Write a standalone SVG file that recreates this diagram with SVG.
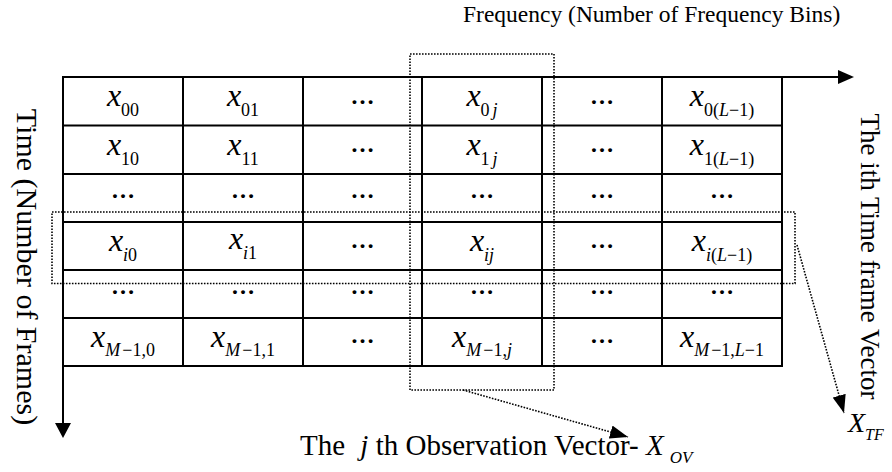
<svg xmlns="http://www.w3.org/2000/svg" width="892" height="472" viewBox="0 0 892 472">
<defs>
<style>
text{font-family:"Liberation Serif","Times New Roman",serif;fill:#000}
.v{font-size:32px;font-style:italic}
.s{font-size:18px}
.it{font-style:italic}
.el{font-size:24px;font-weight:bold}
.grid{stroke:#000;stroke-width:2;fill:none}
.dot{stroke:#000;stroke-width:1.6;stroke-dasharray:1.6 1.4;fill:none}
.lbl{font-size:29px}
</style>
<marker id="ah" markerUnits="userSpaceOnUse" markerWidth="18" markerHeight="14" refX="16" refY="6" orient="auto" viewBox="0 0 16 12">
<path d="M0,0 L16,6 L0,12 z" fill="#000"/>
</marker>
</defs>
<rect width="892" height="472" fill="#fff"/>

<g id="grid">
<rect class="grid" x="63" y="77" width="719" height="289"/>
<path class="grid" d="M183,77V366M303,77V366M422,77V366M542,77V366M662,77V366M63,125.5H782M63,174H782M63,222H782M63,270H782M63,318H782"/>
</g>

<g id="axes">
<path class="grid" d="M63,77H840"/>
<path d="M838,70 L854,77 L838,84 z" fill="#000"/>
<path class="grid" d="M63,77V425"/>
<path d="M55,423 L63,438 L71,423 z" fill="#000"/>
</g>

<g id="cells">
<text x="123" y="106" text-anchor="middle"><tspan class="v">x</tspan><tspan class="s" dy="10">00</tspan></text>
<text x="243" y="106" text-anchor="middle"><tspan class="v">x</tspan><tspan class="s" dy="10">01</tspan></text>
<text x="362.5" y="104" text-anchor="middle" class="el">…</text>
<text x="482" y="106" text-anchor="middle"><tspan class="v">x</tspan><tspan class="s" dy="10">0</tspan><tspan class="s it" dx="3">j</tspan></text>
<text x="602" y="104" text-anchor="middle" class="el">…</text>
<text x="722" y="106" text-anchor="middle"><tspan class="v">x</tspan><tspan class="s" dy="10">0(</tspan><tspan class="s it">L</tspan><tspan class="s">−1)</tspan></text>

<text x="123" y="154.5" text-anchor="middle"><tspan class="v">x</tspan><tspan class="s" dy="10">10</tspan></text>
<text x="243" y="154.5" text-anchor="middle"><tspan class="v">x</tspan><tspan class="s" dy="10">11</tspan></text>
<text x="362.5" y="151.5" text-anchor="middle" class="el">…</text>
<text x="482" y="154.5" text-anchor="middle"><tspan class="v">x</tspan><tspan class="s" dy="10">1</tspan><tspan class="s it" dx="3">j</tspan></text>
<text x="602" y="151.5" text-anchor="middle" class="el">…</text>
<text x="722" y="154.5" text-anchor="middle"><tspan class="v">x</tspan><tspan class="s" dy="10">1(</tspan><tspan class="s it">L</tspan><tspan class="s">−1)</tspan></text>

<text x="123" y="197.5" text-anchor="middle" class="el">…</text>
<text x="243" y="197.5" text-anchor="middle" class="el">…</text>
<text x="362.5" y="197.5" text-anchor="middle" class="el">…</text>
<text x="482" y="197.5" text-anchor="middle" class="el">…</text>
<text x="602" y="197.5" text-anchor="middle" class="el">…</text>
<text x="722" y="197.5" text-anchor="middle" class="el">…</text>

<text x="123" y="251" text-anchor="middle"><tspan class="v">x</tspan><tspan class="s it" dy="10">i</tspan><tspan class="s">0</tspan></text>
<text x="243" y="249" text-anchor="middle"><tspan class="v">x</tspan><tspan class="s it" dy="10">i</tspan><tspan class="s">1</tspan></text>
<text x="362.5" y="248" text-anchor="middle" class="el">…</text>
<text x="482" y="251" text-anchor="middle"><tspan class="v">x</tspan><tspan class="s it" dy="10">ij</tspan></text>
<text x="602" y="248" text-anchor="middle" class="el">…</text>
<text x="722" y="251" text-anchor="middle"><tspan class="v">x</tspan><tspan class="s it" dy="10">i</tspan><tspan class="s">(</tspan><tspan class="s it">L</tspan><tspan class="s">−1)</tspan></text>

<text x="123" y="293.5" text-anchor="middle" class="el">…</text>
<text x="243" y="293.5" text-anchor="middle" class="el">…</text>
<text x="362.5" y="293.5" text-anchor="middle" class="el">…</text>
<text x="482" y="293.5" text-anchor="middle" class="el">…</text>
<text x="602" y="293.5" text-anchor="middle" class="el">…</text>
<text x="722" y="293.5" text-anchor="middle" class="el">…</text>

<text x="123" y="347" text-anchor="middle"><tspan class="v">x</tspan><tspan class="s it" dy="9">M</tspan><tspan class="s" dx="2">−1,0</tspan></text>
<text x="243" y="347" text-anchor="middle"><tspan class="v">x</tspan><tspan class="s it" dy="9">M</tspan><tspan class="s" dx="2">−1,1</tspan></text>
<text x="362.5" y="342.5" text-anchor="middle" class="el">…</text>
<text x="482" y="347" text-anchor="middle"><tspan class="v">x</tspan><tspan class="s it" dy="9">M</tspan><tspan class="s" dx="2">−1,</tspan><tspan class="s it">j</tspan></text>
<text x="602" y="342.5" text-anchor="middle" class="el">…</text>
<text x="722" y="347" text-anchor="middle"><tspan class="v">x</tspan><tspan class="s it" dy="9">M</tspan><tspan class="s" dx="2">−1,</tspan><tspan class="s it">L</tspan><tspan class="s">−1</tspan></text>
</g>

<g id="observation-vector">
<rect class="dot" x="410" y="54" width="144" height="336"/>
</g>
<g id="time-frame-vector">
<rect class="dot" x="52" y="212" width="743" height="71.5"/>
</g>

<g id="connectors">
<path class="dot" d="M463,390 L628,437" marker-end="url(#ah)"/>
<path class="dot" d="M797,245 L844,413" marker-end="url(#ah)"/>
</g>

<g id="labels">
<text x="463" y="22" style="font-size:23.5px">Frequency (Number of Frequency Bins)</text>
<text transform="translate(17,267) rotate(90)" text-anchor="middle" style="font-size:30px">Time (Number of Frames)</text>
<text transform="translate(861,256.5) rotate(90)" text-anchor="middle" style="font-size:27px">The ith Time frame Vector</text>
<text x="300" y="455" class="lbl">The <tspan class="it" dx="8">j</tspan> th Observation Vector- <tspan class="it">X</tspan><tspan class="it" dy="8" dx="6" style="font-size:17px">OV</tspan></text>
<text x="848" y="432"><tspan class="it" style="font-size:28px">X</tspan><tspan class="it" dy="8" style="font-size:16px">TF</tspan></text>
</g>
</svg>
